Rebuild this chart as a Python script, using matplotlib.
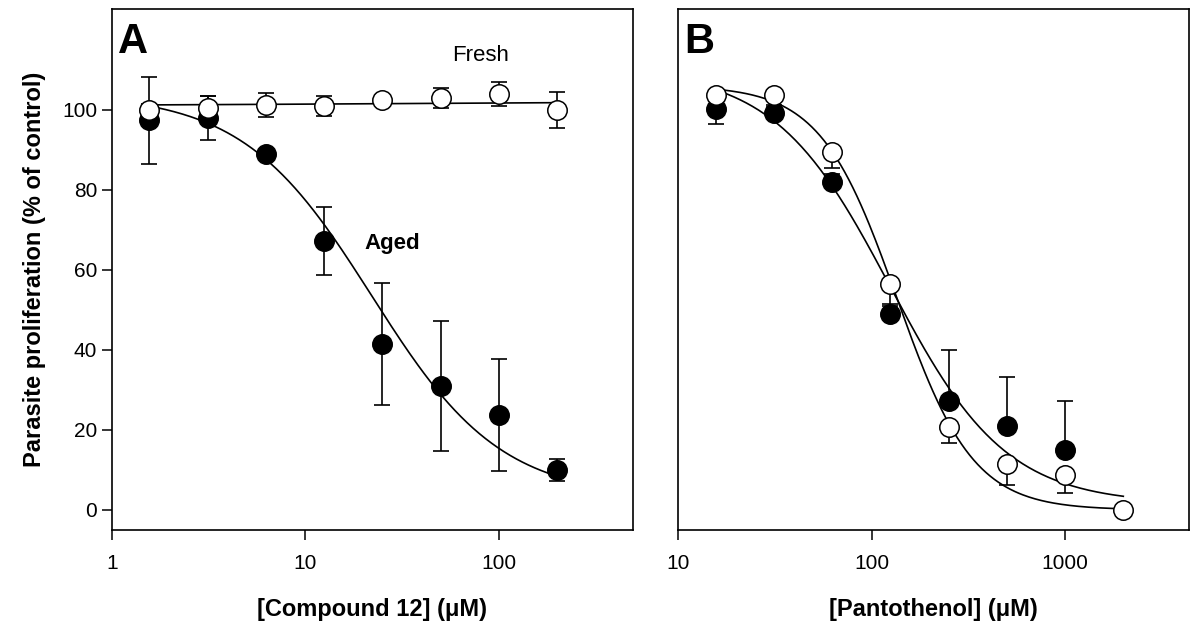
# import packages
import numpy as np
import matplotlib
matplotlib.use("Agg")
import matplotlib.pyplot as plt

plt.rcParams["font.family"] = ["Liberation Sans", "DejaVu Sans"]

# panel A data - compound 12 dilution series
conc_a = [1.5625, 3.125, 6.25, 12.5, 25, 50, 100, 200]
fresh_a = [100.0, 100.5, 101.2, 101.0, 102.3, 103.0, 104.0, 100.0]
fresh_a_err = [1.5, 3.0, 3.0, 2.5, 0.5, 2.5, 3.0, 4.5]
aged_a = [97.3, 98.0, 89.0, 67.2, 41.5, 31.0, 23.7, 10.0]
aged_a_err = [10.8, 5.5, 0.0, 8.4, 15.2, 16.3, 14.0, 2.7]

# panel B data - pantothenol dilution series
conc_b = [15.625, 31.25, 62.5, 125, 250, 500, 1000, 2000]
open_b = [103.7, 103.7, 89.5, 56.5, 20.8, 11.6, 8.7, 0.0]
open_b_err = [7.3, 3.0, 4.0, 5.0, 4.0, 5.4, 4.5, 0.0]
filled_conc_b = [15.625, 31.25, 62.5, 125, 250, 500, 1000]
filled_b = [100.2, 99.1, 81.9, 48.9, 27.2, 21.0, 15.0]
filled_b_err = [2.0, 2.0, 2.0, 2.0, 12.7, 12.3, 12.3]

# fitted curve parameters: top, bottom, ic50, hill
fit_fresh_a = (101.0, 101.9, 20.0, 0.6)
fit_aged_a = (104.0, 3.0, 22.0, 1.3)
fit_open_b = (106.0, 0.0, 135.0, 2.2)
fit_filled_b = (110.0, 1.5, 125.0, 1.45)


def logistic(x, params):
    top, bottom, ic50, hill = params
    return bottom + (top - bottom) / (1 + (x / ic50) ** hill)


def draw_fit(ax, xmin, xmax, params):
    xs = np.logspace(np.log10(xmin), np.log10(xmax), 200)
    ax.plot(xs, logistic(xs, params), color="black", lw=1.2, zorder=2)


def draw_points(ax, x, y, up, down, face):
    ax.errorbar(x, y, yerr=[down, up], fmt="none", ecolor="black",
                elinewidth=1.2, capsize=6, capthick=1.2, zorder=3)
    ax.plot(x, y, "o", ms=14, mfc=face, mec="black", mew=1.1,
            ls="none", zorder=4 if face == "black" else 5)


def style_axis(ax):
    for s in ax.spines.values():
        s.set_linewidth(1.2)
    ax.set_xscale("log")
    ax.set_ylim(-5, 125)
    ax.minorticks_off()
    ax.tick_params(direction="out", length=7, width=1.1, labelsize=15)
    ax.tick_params(axis="x", pad=10)


fig = plt.figure(figsize=(11.91, 6.26), dpi=100)
ax_a = fig.add_axes([0.0940, 0.1534, 0.4375, 0.8315])
ax_b = fig.add_axes([0.5693, 0.1534, 0.4291, 0.8315])

# panel A
style_axis(ax_a)
draw_fit(ax_a, conc_a[0], conc_a[-1], fit_aged_a)
draw_fit(ax_a, conc_a[0], conc_a[-1], fit_fresh_a)
draw_points(ax_a, conc_a, aged_a, aged_a_err, aged_a_err, "black")
draw_points(ax_a, conc_a, fresh_a, fresh_a_err, fresh_a_err, "white")
ax_a.set_xlim(1, 493)
ax_a.set_xticks([1, 10, 100])
ax_a.set_xticklabels(["1", "10", "100"])
ax_a.set_yticks([0, 20, 40, 60, 80, 100])
ax_a.text(80, 113.5, "Fresh", fontsize=16, ha="center", va="center")
ax_a.text(28, 66.6, "Aged", fontsize=16, fontweight="bold",
          ha="center", va="center")
ax_a.text(0.012, 0.975, "A", transform=ax_a.transAxes, fontsize=30,
          fontweight="bold", ha="left", va="top")
ax_a.set_xlabel("[Compound 12] (\u03bcM)", fontsize=17, fontweight="bold",
                labelpad=18)
ax_a.set_ylabel("Parasite proliferation (% of control)", fontsize=17,
                fontweight="bold", labelpad=12)

# panel B
style_axis(ax_b)
draw_fit(ax_b, conc_b[0], conc_b[-1], fit_open_b)
draw_fit(ax_b, conc_b[0], conc_b[-1], fit_filled_b)
zeros = [0] * len(filled_b)
draw_points(ax_b, filled_conc_b, filled_b, filled_b_err, zeros, "black")
draw_points(ax_b, conc_b, open_b, [0] * len(open_b), open_b_err, "white")
ax_b.set_xlim(10, 4375)
ax_b.set_xticks([10, 100, 1000])
ax_b.set_xticklabels(["10", "100", "1000"])
ax_b.set_yticks([])
ax_b.text(0.012, 0.975, "B", transform=ax_b.transAxes, fontsize=30,
          fontweight="bold", ha="left", va="top")
ax_b.set_xlabel("[Pantothenol] (\u03bcM)", fontsize=17, fontweight="bold",
                labelpad=18)

fig.savefig("out.png", dpi=100)
